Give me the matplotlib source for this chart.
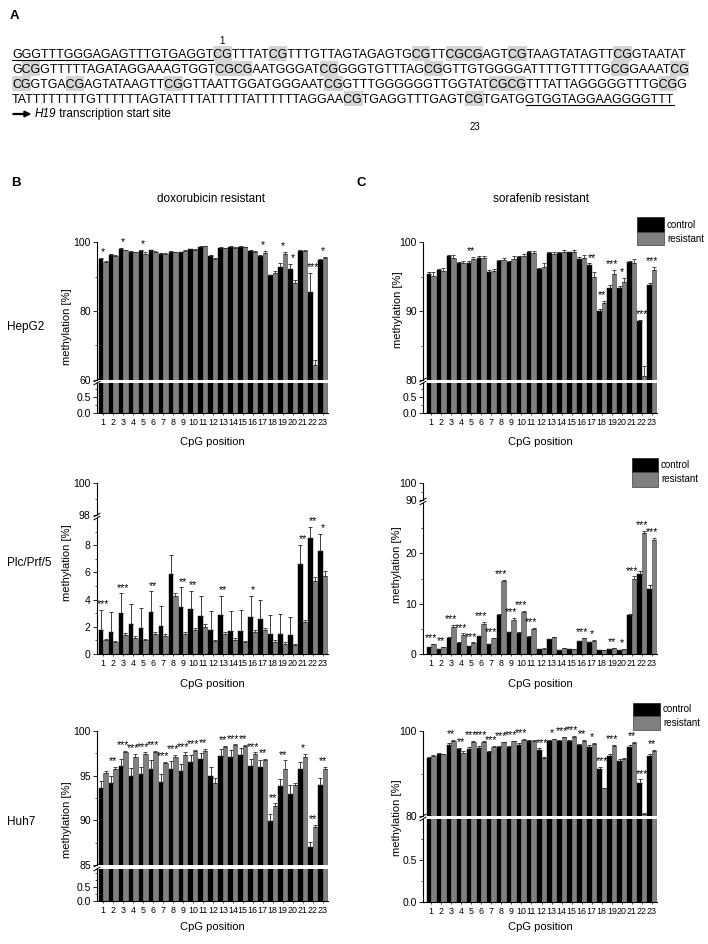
import numpy as np
import matplotlib
matplotlib.use('Agg')
import matplotlib.pyplot as plt
from matplotlib.patches import Rectangle, FancyArrow
from matplotlib.lines import Line2D
from matplotlib.ticker import FixedLocator, FormatStrFormatter

plt.rcParams['font.family'] = ['Liberation Sans', 'DejaVu Sans']
plt.rcParams['axes.linewidth'] = 0.8

# ---------------- data ----------------
cpg_positions = list(range(1, 24))
cpg_labels = [str(p) for p in cpg_positions]

seq_lines = [
    "GGGTTTGGGAGAGTTTGTGAGGTCGTTTATCGTTTGTTAGTAGAGTGCGTTCGCGAGTCGTAAGTATAGTTCGGTAATAT",
    "GCGGTTTTTAGATAGGAAAGTGGTCGCGAATGGGATCGGGGTGTTTAGCGGTTGTGGGGATTTTGTTTTGCGGAAATCG",
    "CGGTGACGAGTATAAGTTCGGTTAATTGGATGGGAATCGGTTTGGGGGGTTGGTATCGCGTTTATTAGGGGGTTTGCGG",
    "TATTTTTTTTGTTTTTTAGTATTTTATTTTTATTTTTTAGGAACGTGAGGTTTGAGTCGTGATGGTGGTAGGAAGGGGTTT",
]
primer_fwd = "GGGTTTGGGAGAGTTTGTGAGGT"
primer_rev = "GTGGTAGGAAGGGGTTT"

# HepG2 doxorubicin
hepg2_dox_ctrl = [95.1, 96.3, 98.0, 97.1, 97.4, 97.6, 96.6, 97.2, 97.0, 97.9, 98.6, 96.0, 98.4, 98.5, 98.5, 97.3, 96.0, 90.3, 92.8, 92.2, 97.5, 85.5, 94.8]
hepg2_dox_ctrl_err = [0.4, 0.2, 0.2, 0.2, 0.3, 0.2, 0.1, 0.2, 0.2, 0.2, 0.2, 0.3, 0.2, 0.2, 0.2, 0.3, 0.3, 0.2, 1.2, 1.5, 0.2, 5.5, 0.2]
hepg2_dox_res = [94.2, 96.0, 97.6, 97.0, 96.5, 97.2, 96.6, 97.0, 97.3, 97.7, 98.7, 95.2, 98.3, 98.4, 98.5, 97.0, 96.8, 91.0, 96.5, 88.2, 97.4, 64.3, 95.5]
hepg2_dox_res_err = [0.4, 0.1, 0.2, 0.2, 0.6, 0.2, 0.1, 0.2, 0.3, 0.3, 0.2, 0.3, 0.1, 0.1, 0.1, 0.3, 0.5, 0.5, 0.6, 0.8, 0.2, 1.5, 0.2]
hepg2_dox_sig = ['*', '', '*', '', '*', '', '', '', '', '', '', '', '', '', '', '', '*', '', '*', '*', '', '***', '*']

# HepG2 sorafenib
hepg2_sor_ctrl = [95.4, 95.9, 97.9, 96.9, 97.0, 97.7, 95.7, 97.2, 97.1, 97.8, 98.5, 96.1, 98.4, 98.4, 98.5, 97.6, 96.7, 90.0, 93.3, 93.3, 97.1, 88.6, 93.8]
hepg2_sor_ctrl_err = [0.2, 0.2, 0.2, 0.2, 0.2, 0.2, 0.3, 0.2, 0.2, 0.2, 0.2, 0.2, 0.2, 0.2, 0.1, 0.2, 0.2, 0.3, 0.4, 0.3, 0.2, 0.1, 0.3]
hepg2_sor_res = [95.1, 95.8, 97.7, 97.0, 97.5, 97.7, 95.8, 97.4, 97.5, 98.0, 98.4, 96.4, 98.3, 98.6, 98.6, 97.7, 94.9, 91.1, 95.4, 94.2, 97.0, 80.6, 95.9]
hepg2_sor_res_err = [0.6, 0.5, 0.4, 0.2, 0.3, 0.2, 0.3, 0.3, 0.5, 0.3, 0.3, 0.6, 0.3, 0.3, 0.2, 0.4, 0.8, 0.4, 0.5, 0.6, 0.6, 1.4, 0.5]
hepg2_sor_sig = ['', '', '', '', '**', '', '', '', '', '', '', '', '', '', '', '', '**', '**', '***', '*', '', '***', '***']

# Plc/Prf/5 doxorubicin
plc_dox_ctrl = [1.8, 1.65, 3.0, 2.2, 1.9, 3.1, 2.05, 5.9, 3.45, 3.3, 2.8, 1.75, 2.85, 1.7, 1.7, 2.75, 2.6, 1.45, 1.5, 1.4, 6.6, 8.5, 7.55]
plc_dox_ctrl_err = [1.45, 1.45, 1.45, 1.45, 1.45, 1.5, 1.45, 1.35, 1.45, 1.35, 1.5, 1.4, 1.45, 1.45, 1.5, 1.5, 1.4, 1.4, 1.45, 1.3, 1.4, 0.85, 1.25]
plc_dox_res = [1.0, 0.85, 1.4, 1.2, 1.0, 1.45, 1.35, 4.3, 1.45, 1.8, 2.0, 0.95, 1.5, 1.05, 0.85, 1.6, 1.75, 0.85, 0.75, 0.65, 2.35, 5.35, 5.75]
plc_dox_res_err = [0.1, 0.1, 0.15, 0.12, 0.1, 0.2, 0.12, 0.15, 0.2, 0.12, 0.2, 0.1, 0.1, 0.12, 0.12, 0.15, 0.15, 0.15, 0.12, 0.1, 0.15, 0.3, 0.35]
plc_dox_sig = ['***', '', '***', '', '', '**', '', '', '**', '**', '', '', '**', '', '', '*', '', '', '', '', '**', '**', '*']

# Plc/Prf/5 sorafenib
plc_sor_ctrl = [1.4, 1.0, 3.2, 2.2, 1.5, 3.5, 1.9, 7.8, 4.3, 4.2, 3.4, 1.0, 2.9, 0.8, 0.9, 2.5, 2.3, 0.7, 0.9, 0.7, 7.8, 15.8, 13.0]
plc_sor_ctrl_err = [0.05, 0.05, 0.1, 0.1, 0.05, 0.1, 0.05, 0.15, 0.1, 0.1, 0.1, 0.05, 0.1, 0.05, 0.05, 0.1, 0.1, 0.05, 0.05, 0.05, 0.15, 0.7, 0.7]
plc_sor_res = [1.9, 1.35, 5.3, 3.7, 2.2, 6.0, 3.1, 14.5, 6.7, 8.3, 4.9, 1.05, 3.3, 1.1, 0.9, 3.1, 2.6, 0.75, 1.1, 0.9, 14.9, 24.0, 22.6]
plc_sor_res_err = [0.1, 0.1, 0.4, 0.4, 0.1, 0.3, 0.1, 0.2, 0.4, 0.3, 0.2, 0.05, 0.1, 0.1, 0.05, 0.1, 0.15, 0.05, 0.1, 0.05, 0.5, 0.4, 0.5]
plc_sor_sig = ['***', '**', '***', '***', '***', '***', '***', '***', '***', '***', '***', '', '', '', '', '***', '*', '', '**', '*', '***', '***', '***']

# Huh7 doxorubicin
huh7_dox_ctrl = [93.6, 94.2, 96.1, 95.0, 95.2, 95.8, 94.3, 95.8, 95.5, 96.5, 96.9, 95.0, 97.2, 97.1, 97.3, 96.1, 96.0, 89.9, 93.8, 92.9, 95.7, 87.0, 93.9]
huh7_dox_ctrl_err = [0.8, 0.8, 0.8, 0.9, 0.8, 1.0, 0.9, 0.8, 0.8, 0.8, 0.6, 1.0, 0.8, 0.8, 0.8, 0.8, 0.7, 0.8, 0.8, 1.0, 0.8, 0.6, 0.8]
huh7_dox_res = [95.3, 95.7, 97.6, 97.1, 97.4, 97.6, 96.4, 97.1, 97.3, 97.8, 97.8, 94.2, 98.2, 98.4, 98.3, 97.4, 96.8, 91.6, 95.7, 93.9, 97.1, 89.2, 95.8]
huh7_dox_res_err = [0.2, 0.3, 0.2, 0.3, 0.2, 0.2, 0.1, 0.2, 0.3, 0.1, 0.2, 0.5, 0.1, 0.1, 0.1, 0.2, 0.1, 0.3, 1.0, 0.3, 0.3, 0.3, 0.2]
huh7_dox_sig = ['', '**', '***', '***', '***', '***', '***', '***', '***', '***', '**', '', '**', '***', '**', '***', '**', '**', '**', '', '*', '**', '**']

# Huh7 sorafenib
huh7_sor_ctrl = [93.6, 94.7, 96.6, 95.8, 95.8, 96.1, 95.1, 96.2, 96.3, 96.8, 97.6, 95.5, 97.6, 97.7, 97.6, 96.6, 96.2, 91.1, 94.1, 93.0, 96.3, 87.8, 94.1]
huh7_sor_ctrl_err = [0.2, 0.2, 0.5, 0.3, 0.4, 0.4, 0.3, 0.3, 0.2, 0.3, 0.2, 0.4, 0.2, 0.2, 0.3, 0.4, 0.4, 0.5, 0.4, 0.3, 0.4, 0.8, 0.4]
huh7_sor_res = [94.1, 94.5, 97.7, 94.9, 97.5, 97.4, 96.3, 97.3, 97.6, 98.0, 97.7, 93.6, 98.1, 98.5, 98.7, 97.6, 96.9, 86.5, 96.5, 93.3, 97.2, 80.4, 95.3]
huh7_sor_res_err = [0.3, 0.2, 0.2, 0.3, 0.2, 0.2, 0.2, 0.2, 0.1, 0.1, 0.2, 0.2, 0.1, 0.1, 0.1, 0.2, 0.2, 0.1, 0.2, 0.3, 0.2, 0.3, 0.2]
huh7_sor_sig = ['', '', '**', '**', '***', '***', '***', '***', '***', '***', '', '***', '*', '***', '***', '**', '*', '***', '***', '', '**', '***', '**']

series_names = ['control', 'resistant']
row_names = ['HepG2', 'Plc/Prf/5', 'Huh7']
col_titles = ['doxorubicin resistant', 'sorafenib resistant']

# ---------------- figure ----------------
W, H = 708, 944
fig = plt.figure(figsize=(W / 100, H / 100), dpi=100)
renderer = fig.canvas.get_renderer()


def fx(px):
    return px / W


def fy(py):
    return 1 - py / H


BLACK = '#000000'
GRAY = '#808080'
GRAY_EDGE = '#404040'

# ---------------- panel A: sequence ----------------
fig.text(fx(10), fy(16), 'A', fontsize=9.5, fontweight='bold', va='center', ha='left')

seq_x0 = 12
probe = fig.text(0, 0, seq_lines[0], fontsize=10)
w10 = probe.get_window_extent(renderer).width
probe.remove()
seq_fs = 10 * 677 / w10
line_ys = [53.5, 68.5, 83.5, 98.5]  # vertical centers of capital letters (px from top)
line_h = 15


def text_width(s, **kw):
    if not s:
        return 0.0
    t = fig.text(0, 0, s, fontsize=seq_fs, **kw)
    w = t.get_window_extent(renderer).width
    t.remove()
    return w


cap_px = 0.716 * seq_fs * 100 / 72
for li, line in enumerate(seq_lines):
    yc = line_ys[li]
    baseline = yc + cap_px / 2
    fig.text(fx(seq_x0), fy(baseline), line, fontsize=seq_fs, va='baseline', ha='left', zorder=3)
    # highlight CpG sites
    i = 0
    while i < len(line):
        if line.startswith('CG', i):
            j = i
            while line.startswith('CG', j):
                j += 2
            xa = seq_x0 + text_width(line[:i])
            xb = seq_x0 + text_width(line[:j])
            fig.add_artist(Rectangle((fx(xa), fy(yc + line_h / 2)), fx(xb - xa), line_h / H,
                                     transform=fig.transFigure, facecolor='#d4d4d4',
                                     edgecolor='none', zorder=1))
            if li == 0 and i == line.find('CG'):
                fig.text(fx((xa + xb) / 2), fy(yc - 13), '1', fontsize=7, ha='center', va='center')
            if li == len(seq_lines) - 1 and i == line.rfind('CG'):
                fig.text(fx((xa + xb) / 2), fy(yc + 29), '23', fontsize=7, ha='center', va='center')
            i = j
        else:
            i += 1
    # underline primers
    for primer in (primer_fwd, primer_rev):
        k = line.find(primer)
        if k >= 0:
            xa = seq_x0 + text_width(line[:k])
            xb = seq_x0 + text_width(line[:k + len(primer)])
            fig.add_artist(Line2D([fx(xa), fx(xb)], [fy(baseline + 2), fy(baseline + 2)],
                                  transform=fig.transFigure, color='black', lw=0.8, zorder=4))

arrow_y = 114
fig.add_artist(FancyArrow(fx(13), fy(arrow_y), fx(17), 0, width=0.0009, head_width=0.006,
                          head_length=fx(6), length_includes_head=True, color='black',
                          transform=fig.transFigure))
t_h19 = fig.text(fx(35), fy(arrow_y), 'H19', fontsize=seq_fs * 0.95, style='italic', va='center', ha='left')
w_h19 = t_h19.get_window_extent(renderer).width
fig.text(fx(35 + w_h19), fy(arrow_y), ' transcription start site', fontsize=seq_fs * 0.95,
         va='center', ha='left')

# ---------------- panels B & C ----------------
fig.text(fx(16), fy(183), 'B', fontsize=9.5, fontweight='bold', va='center', ha='center')
fig.text(fx(361), fy(183), 'C', fontsize=9.5, fontweight='bold', va='center', ha='center')
fig.text(fx(211), fy(199), col_titles[0], fontsize=8.5, ha='center', va='center')
fig.text(fx(541), fy(199), col_titles[1], fontsize=8.5, ha='center', va='center')

panels = [
    dict(ctrl=hepg2_dox_ctrl, cerr=hepg2_dox_ctrl_err, res=hepg2_dox_res, rerr=hepg2_dox_res_err,
         sig=hepg2_dox_sig, x0=97, x1=328, xlim=(0.37, 23.55),
         top=(242, 380), bot=(383, 413), tlim=(60, 100), blim=(0, 0.92),
         tmaj=[60, 80, 100], tmin=[70, 90], bmaj=[0.0, 0.5], bmin=[0.25, 0.75], bfmt='%.1f',
         xlab_y=442, ylab_x=67, ylab_y=327, legend=None),
    dict(ctrl=hepg2_sor_ctrl, cerr=hepg2_sor_ctrl_err, res=hepg2_sor_res, rerr=hepg2_sor_res_err,
         sig=hepg2_sor_sig, x0=423, x1=657, xlim=(0.2, 23.5),
         top=(242, 380), bot=(383, 413), tlim=(80, 100), blim=(0, 0.92),
         tmaj=[80, 90, 100], tmin=[85, 95], bmaj=[0.0, 0.5], bmin=[0.25, 0.75], bfmt='%.1f',
         xlab_y=442, ylab_x=398, ylab_y=310, legend=(637, 217, 664, 232, 245)),
    dict(ctrl=plc_dox_ctrl, cerr=plc_dox_ctrl_err, res=plc_dox_res, rerr=plc_dox_res_err,
         sig=plc_dox_sig, x0=97, x1=328, xlim=(0.37, 23.55),
         top=(483, 515), bot=(518, 654), tlim=(98, 100), blim=(0, 10.0),
         tmaj=[98, 100], tmin=[99], bmaj=[0, 2, 4, 6, 8], bmin=[1, 3, 5, 7, 9], bfmt='%d',
         xlab_y=684, ylab_x=67, ylab_y=563, legend=None),
    dict(ctrl=plc_sor_ctrl, cerr=plc_sor_ctrl_err, res=plc_sor_res, rerr=plc_sor_res_err,
         sig=plc_sor_sig, x0=423, x1=657, xlim=(0.2, 23.5),
         top=(483, 500), bot=(503, 654), tlim=(90, 100), blim=(0, 30),
         tmaj=[90, 100], tmin=[95], bmaj=[0, 10, 20], bmin=[5, 15, 25], bfmt='%d',
         xlab_y=684, ylab_x=397, ylab_y=565, legend=(632, 458, 658, 472, 487)),
    dict(ctrl=huh7_dox_ctrl, cerr=huh7_dox_ctrl_err, res=huh7_dox_res, rerr=huh7_dox_res_err,
         sig=huh7_dox_sig, x0=97, x1=328, xlim=(0.37, 23.55),
         top=(731, 865), bot=(869, 901), tlim=(85, 100), blim=(0, 1.14),
         tmaj=[85, 90, 95, 100], tmin=[87.5, 92.5, 97.5], bmaj=[0.0, 0.5], bmin=[0.25, 0.75, 1.0], bfmt='%.1f',
         xlab_y=927, ylab_x=67, ylab_y=820, legend=None),
    dict(ctrl=huh7_sor_ctrl, cerr=huh7_sor_ctrl_err, res=huh7_sor_res, rerr=huh7_sor_res_err,
         sig=huh7_sor_sig, x0=423, x1=657, xlim=(0.2, 23.5),
         top=(731, 816), bot=(819, 902), tlim=(80, 100), blim=(0, 0.99),
         tmaj=[80, 100], tmin=[90], bmaj=[0.0, 0.5], bmin=[0.25, 0.75], bfmt='%.1f',
         xlab_y=927, ylab_x=397, ylab_y=818, legend=(633, 703, 660, 716, 730)),
]

row_label_pos = [(7, 327), (7, 563), (7, 822)]
for name, (px, py) in zip(row_names, row_label_pos):
    fig.text(fx(px), fy(py), name, fontsize=8.5, ha='left', va='center')

x = np.array(cpg_positions, dtype=float)
bw = 0.45
zeros = np.zeros(len(x))

for p in panels:
    x0, x1 = p['x0'], p['x1']
    ax_t = fig.add_axes([fx(x0), fy(p['top'][1]), (x1 - x0) / W, (p['top'][1] - p['top'][0]) / H])
    ax_b = fig.add_axes([fx(x0), fy(p['bot'][1]), (x1 - x0) / W, (p['bot'][1] - p['bot'][0]) / H])
    ctrl = np.array(p['ctrl']); res = np.array(p['res'])
    cerr = np.array(p['cerr']); rerr = np.array(p['rerr'])
    for ax in (ax_t, ax_b):
        ax.bar(x - bw / 2, ctrl, bw, color=BLACK, edgecolor=BLACK, linewidth=0.3)
        ax.bar(x + bw / 2, res, bw, color=GRAY, edgecolor=GRAY_EDGE, linewidth=0.4)
        ax.errorbar(x - bw / 2, ctrl, yerr=[zeros, cerr], fmt='none', ecolor='#202020',
                    elinewidth=0.6, capsize=1.4, capthick=0.6)
        ax.errorbar(x + bw / 2, res, yerr=[zeros, rerr], fmt='none', ecolor='#303030',
                    elinewidth=0.6, capsize=1.4, capthick=0.6)
        ax.set_xlim(*p['xlim'])
        ax.spines['top'].set_visible(False)
        ax.spines['right'].set_visible(False)
        ax.tick_params(axis='y', direction='out', length=3, width=0.6, labelsize=7.5, pad=1.5)
        ax.tick_params(axis='y', which='minor', direction='out', length=1.6, width=0.5)
        ax.patch.set_visible(False)
    ax_t.set_ylim(*p['tlim'])
    ax_b.set_ylim(*p['blim'])
    ax_t.spines['bottom'].set_visible(False)
    ax_t.tick_params(axis='x', bottom=False, labelbottom=False)
    ax_t.yaxis.set_major_locator(FixedLocator(p['tmaj']))
    ax_t.yaxis.set_minor_locator(FixedLocator(p['tmin']))
    ax_t.yaxis.set_major_formatter(FormatStrFormatter('%d'))
    ax_b.yaxis.set_major_locator(FixedLocator(p['bmaj']))
    ax_b.yaxis.set_minor_locator(FixedLocator(p['bmin']))
    ax_b.yaxis.set_major_formatter(FormatStrFormatter(p['bfmt']))
    ax_b.set_xticks(x)
    ax_b.set_xticklabels(cpg_labels)
    ax_b.tick_params(axis='x', direction='out', length=1.5, width=0.5, labelsize=6.4, pad=2)

    # significance stars
    tlow = p['tlim'][0]
    for i, s in enumerate(p['sig']):
        if not s:
            continue
        top = max(ctrl[i] + cerr[i], res[i] + rerr[i])
        ax = ax_t if top >= tlow else ax_b
        ax.annotate(s, (x[i], top), xytext=(0, 2.0), textcoords='offset points',
                    ha='center', va='baseline', fontsize=7.6, annotation_clip=False)

    # break marks on the left spine
    gy0, gy1 = p['top'][1], p['bot'][0]
    for gy in (gy0, gy1):
        fig.add_artist(Line2D([fx(x0 - 3), fx(x0 + 3)], [fy(gy + 1.8), fy(gy - 1.8)],
                              transform=fig.transFigure, color='black', lw=0.7))

    # axis labels
    fig.text(fx(p['ylab_x']), fy(p['ylab_y']), 'methylation [%]', rotation=90, fontsize=8,
             ha='center', va='center')
    fig.text(fx((x0 + x1) / 2), fy(p['xlab_y']), 'CpG position', fontsize=8, ha='center', va='center')

    # legend
    if p['legend'] is not None:
        lx0, ly0, lx1, ly1, ly2 = p['legend']
        fig.add_artist(Rectangle((fx(lx0), fy(ly1)), fx(lx1 - lx0), (ly1 - ly0) / H,
                                 transform=fig.transFigure, facecolor=BLACK, edgecolor=BLACK, lw=0.4))
        fig.add_artist(Rectangle((fx(lx0), fy(ly2)), fx(lx1 - lx0), (ly2 - ly1) / H,
                                 transform=fig.transFigure, facecolor=GRAY, edgecolor=GRAY_EDGE, lw=0.5))
        fig.text(fx(lx1 + 3), fy((ly0 + ly1) / 2), series_names[0], fontsize=7, ha='left', va='center')
        fig.text(fx(lx1 + 3), fy((ly1 + ly2) / 2), series_names[1], fontsize=7, ha='left', va='center')

fig.savefig('out.png', dpi=100)
